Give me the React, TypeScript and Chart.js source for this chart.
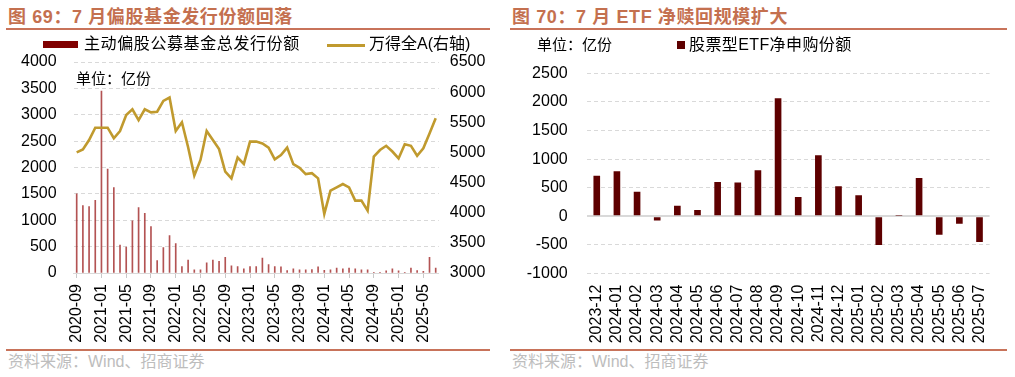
import React, { useEffect, useRef } from 'react';
import { Chart, registerables } from 'chart.js';

Chart.register(...registerables);

// ---------- Left chart data (Figure 69) ----------
const fundMonths: string[] = [
  '2020-09', '2020-10', '2020-11', '2020-12',
  '2021-01', '2021-02', '2021-03', '2021-04', '2021-05', '2021-06', '2021-07', '2021-08', '2021-09', '2021-10', '2021-11', '2021-12',
  '2022-01', '2022-02', '2022-03', '2022-04', '2022-05', '2022-06', '2022-07', '2022-08', '2022-09', '2022-10', '2022-11', '2022-12',
  '2023-01', '2023-02', '2023-03', '2023-04', '2023-05', '2023-06', '2023-07', '2023-08', '2023-09', '2023-10', '2023-11', '2023-12',
  '2024-01', '2024-02', '2024-03', '2024-04', '2024-05', '2024-06', '2024-07', '2024-08', '2024-09', '2024-10', '2024-11', '2024-12',
  '2025-01', '2025-02', '2025-03', '2025-04', '2025-05', '2025-06', '2025-07',
];

// 主动偏股公募基金总发行份额 (亿份)
const fundIssuance: number[] = [
  1500, 1280, 1260, 1380,
  3450, 1970, 1620, 530, 490, 990, 1240, 1130, 880, 235, 480, 710,
  560, 120, 245, 60, 60, 195, 245, 220, 295, 135, 120, 80,
  120, 120, 285, 160, 120, 115, 45, 80, 60, 60, 65, 115,
  50, 60, 95, 80, 95, 80, 60, 60, 15, 15, 40, 80,
  40, 15, 95, 45, 30, 295, 95,
];

// 万得全A (右轴)
const windAllA: number[] = [
  5000, 5050, 5205, 5410,
  5410, 5410, 5235, 5355, 5620, 5715, 5535, 5715, 5665, 5675, 5855, 5910,
  5355, 5500, 5085, 4615, 4875, 5355, 5205, 5055, 4680, 4570, 4915, 4810,
  5180, 5180, 5150, 5080, 4885, 4955, 5080, 4805, 4745, 4640, 4655, 4570,
  3980, 4365, 4420, 4475, 4420, 4200, 4200, 4035, 4930, 5040, 5110, 5015,
  4900, 5135, 5110, 4945, 5070, 5315, 5565,
];

// ---------- Right chart data (Figure 70) ----------
const etfMonths: string[] = [
  '2023-12', '2024-01', '2024-02', '2024-03', '2024-04', '2024-05', '2024-06', '2024-07', '2024-08', '2024-09',
  '2024-10', '2024-11', '2024-12', '2025-01', '2025-02', '2025-03', '2025-04', '2025-05', '2025-06', '2025-07',
];

// 股票型ETF净申购份额 (亿份)
const etfNetSubscription: number[] = [
  711, 787, 432, -70, 187, 111, 601, 594, 804, 2063,
  339, 1066, 525, 367, -500, 10, 671, -320, -128, -447,
];

const FONT = "'Liberation Sans', Arial, 'Noto Sans CJK SC', sans-serif";
const TITLE_COLOR = '#C4704F';
const RULE_COLOR = '#C8735A';
const GRID = '#d9d9d9';
const plain = (v: any) => String(v);

export default function App() {
  const leftRef = useRef<HTMLCanvasElement>(null);
  const rightRef = useRef<HTMLCanvasElement>(null);

  useEffect(() => {
    Chart.defaults.font.family = FONT;
    Chart.defaults.color = '#000';

    const left = new Chart(leftRef.current as HTMLCanvasElement, {
      type: 'bar',
      data: {
        labels: fundMonths,
        datasets: [
          {
            type: 'line',
            label: '万得全A(右轴)',
            data: windAllA,
            yAxisID: 'y1',
            borderColor: '#C09A2E',
            backgroundColor: '#C09A2E',
            borderWidth: 2.6,
            pointRadius: 0,
            tension: 0,
            order: 0,
          } as any,
          {
            type: 'bar',
            label: '主动偏股公募基金总发行份额',
            data: fundIssuance,
            yAxisID: 'y',
            backgroundColor: 'rgba(160,40,40,0.8)',
            barThickness: 1,
            order: 1,
          } as any,
        ],
      },
      options: {
        responsive: false,
        animation: false,
        devicePixelRatio: 1,
        layout: { padding: { top: 32, left: 0, right: 0, bottom: 0 } },
        plugins: { legend: { display: false }, tooltip: { enabled: false } },
        scales: {
          x: {
            offset: true,
            grid: {
              display: true,
              offset: false,
              drawOnChartArea: false,
              drawTicks: true,
              tickLength: 5,
              color: (ctx: any) => (ctx.index % 4 === 0 ? '#c8c8c8' : 'rgba(0,0,0,0)'),
            },
            border: { display: true, color: GRID, width: 1 },
            ticks: {
              autoSkip: false,
              maxRotation: 90,
              minRotation: 90,
              padding: 6,
              font: { size: 16 },
              color: '#000',
              callback: (_v: any, i: number) => (i % 4 === 0 ? fundMonths[i] : ''),
            },
            afterFit: (s: any) => { s.height = 77; },
          },
          y: {
            position: 'left',
            min: 0,
            max: 4000,
            ticks: { stepSize: 500, padding: 17, font: { size: 16 }, color: '#000', callback: plain },
            grid: { color: GRID, lineWidth: 1, drawTicks: false },
            border: { display: false, dash: [4, 3] },
            afterFit: (s: any) => { s.width = 73.6; },
          },
          y1: {
            position: 'right',
            min: 3000,
            max: 6500,
            ticks: { stepSize: 500, padding: 11, font: { size: 16 }, color: '#000', callback: plain },
            grid: { drawOnChartArea: false, drawTicks: false },
            border: { display: false },
            afterFit: (s: any) => { s.width = 61.2; },
          },
        },
      } as any,
    });

    const right = new Chart(rightRef.current as HTMLCanvasElement, {
      type: 'bar',
      data: {
        labels: etfMonths,
        datasets: [
          {
            label: '股票型ETF净申购份额',
            data: etfNetSubscription,
            backgroundColor: '#5E0000',
            borderWidth: 0,
            categoryPercentage: 1,
            barPercentage: 0.33,
          },
        ],
      },
      options: {
        responsive: false,
        animation: false,
        devicePixelRatio: 1,
        layout: { padding: { top: 43.3, left: 0, right: 11.7, bottom: 0 } },
        plugins: { legend: { display: false }, tooltip: { enabled: false } },
        scales: {
          x: {
            offset: true,
            grid: { display: false, drawTicks: false },
            border: { display: false },
            ticks: {
              autoSkip: false,
              maxRotation: 90,
              minRotation: 90,
              padding: 11,
              font: { size: 16 },
              color: '#000',
            },
            afterFit: (s: any) => { s.height = 76.4; },
          },
          y: {
            min: -1000,
            max: 2500,
            ticks: { stepSize: 500, padding: 19, font: { size: 16 }, color: '#000', callback: plain },
            grid: {
              color: GRID,
              lineWidth: (ctx: any) => (ctx.tick && ctx.tick.value === 0 ? 2 : 1),
              drawTicks: false,
            },
            border: {
              display: false,
              dash: (ctx: any) => (ctx.tick && ctx.tick.value === 0 ? [] : [4, 3]),
            },
            afterFit: (s: any) => { s.width = 81.7; },
          },
        },
      } as any,
    });

    return () => {
      left.destroy();
      right.destroy();
    };
  }, []);

  const abs = (l: number, t: number, extra: React.CSSProperties = {}): React.CSSProperties => ({
    position: 'absolute',
    left: l,
    top: t,
    whiteSpace: 'nowrap',
    ...extra,
  });

  const titleStyle: React.CSSProperties = {
    fontFamily: "'Liberation Sans', 'Noto Sans CJK SC', sans-serif",
    fontWeight: 'bold',
    fontSize: 18,
    lineHeight: '18px',
    color: TITLE_COLOR,
    letterSpacing: 0.6,
  };
  const textStyle: React.CSSProperties = {
    fontFamily: "'Liberation Sans', 'Noto Sans CJK SC', sans-serif",
    fontSize: 16,
    lineHeight: '16px',
    color: '#000',
  };
  const sourceStyle: React.CSSProperties = {
    fontFamily: "'Liberation Sans', 'Noto Sans CJK SC', sans-serif",
    fontSize: 16,
    lineHeight: '16px',
    color: '#bdbdbd',
  };

  return (
    <div
      style={{
        position: 'absolute',
        left: 0,
        top: 0,
        width: 1015,
        height: 377,
        background: '#fff',
        overflow: 'hidden',
      }}
    >
      {/* canvases */}
      <div style={abs(0, 30, { width: 500, height: 320 })}>
        <canvas ref={leftRef} width={500} height={320} style={{ width: 500, height: 320, display: 'block' }} />
      </div>
      <div style={abs(505, 30, { width: 505, height: 320 })}>
        <canvas ref={rightRef} width={505} height={320} style={{ width: 505, height: 320, display: 'block' }} />
      </div>

      {/* titles */}
      <div style={abs(8, 7.5, titleStyle)}>图 69：7 月偏股基金发行份额回落</div>
      <div style={abs(512, 7.5, titleStyle)}>图 70：7 月 ETF 净赎回规模扩大</div>

      {/* rules */}
      <div style={abs(6, 28, { width: 484, height: 2, background: RULE_COLOR })} />
      <div style={abs(510, 28, { width: 497, height: 2, background: RULE_COLOR })} />
      <div style={abs(6, 349, { width: 484, height: 2, background: RULE_COLOR })} />
      <div style={abs(510, 349, { width: 497, height: 2, background: RULE_COLOR })} />

      {/* left legend */}
      <div style={abs(43, 41, { width: 35, height: 7, background: '#800000' })} />
      <div style={abs(84, 36, { ...textStyle, letterSpacing: 0.6 })}>主动偏股公募基金总发行份额</div>
      <div style={abs(327, 44, { width: 38, height: 2.5, background: '#C09A2E' })} />
      <div style={abs(369, 36, textStyle)}>万得全A(右轴)</div>
      <div style={abs(76, 71, { ...textStyle, fontSize: 15, lineHeight: '15px' })}>单位：亿份</div>

      {/* right legend */}
      <div style={abs(537, 37, { ...textStyle, fontSize: 15, lineHeight: '15px' })}>单位：亿份</div>
      <div style={abs(677, 41, { width: 8, height: 8, background: '#5E0000' })} />
      <div style={abs(689, 37, { ...textStyle, letterSpacing: 0.4 })}>股票型ETF净申购份额</div>

      {/* sources */}
      <div style={abs(8, 354, sourceStyle)}>资料来源：Wind、招商证券</div>
      <div style={abs(512, 354, sourceStyle)}>资料来源：Wind、招商证券</div>
    </div>
  );
}
